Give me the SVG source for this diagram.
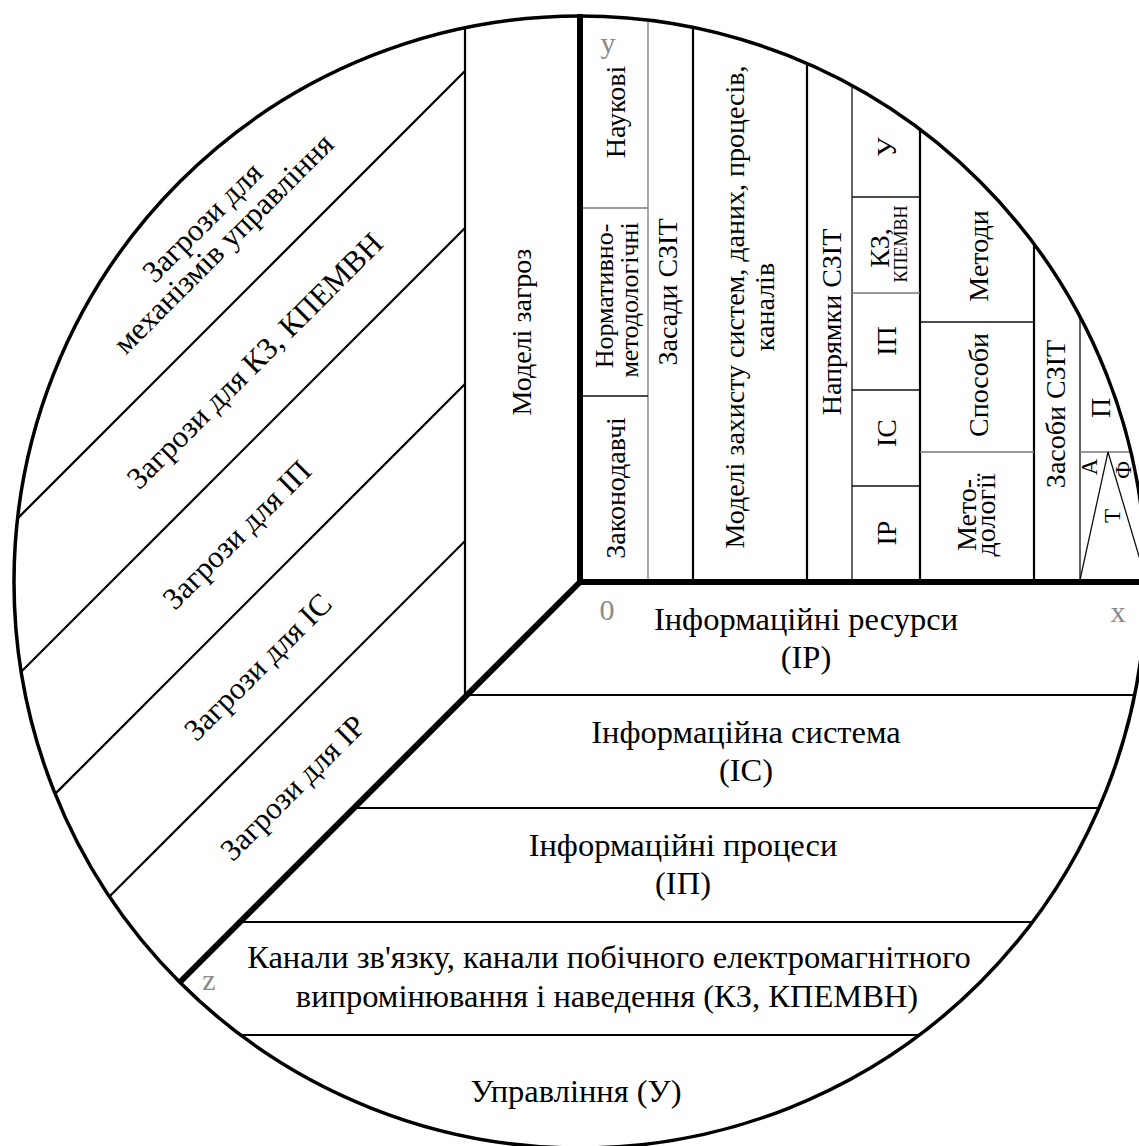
<svg xmlns="http://www.w3.org/2000/svg" width="1139" height="1146" viewBox="0 0 1139 1146" font-family="Liberation Serif, DejaVu Serif, serif">
<style>
text{font-family:"Liberation Serif","DejaVu Serif",serif;fill:#000}
.big{font-size:32.5px}
.thr{font-size:31px}
.col{font-size:28px}
.sm{font-size:26px}
.xs{font-size:18px}
.tiny{font-size:23px}
.ax{font-size:30px;fill:#8a8a8a}
.thick{stroke:#000;stroke-width:6;fill:none}
.med{stroke:#000;stroke-width:2.2;fill:none}
.thin{stroke:#111;stroke-width:1.3;fill:none}
.gray{stroke:#777;stroke-width:1.3;fill:none}
</style>
<rect width="1139" height="1146" fill="#fff"/>
<g id="connectors">
  <line class="med" x1="465" y1="28" x2="465" y2="697"/>
  <line class="med" x1="465" y1="71" x2="17.6" y2="518.4"/>
  <line class="med" x1="465" y1="228" x2="21.2" y2="671.8"/>
  <line class="med" x1="465" y1="384" x2="55.1" y2="793.9"/>
  <line class="med" x1="465" y1="541" x2="109.5" y2="896.5"/>
  <line class="med" x1="467" y1="695" x2="1135" y2="695"/>
  <line class="med" x1="354" y1="808" x2="1099" y2="808"/>
  <line class="med" x1="240" y1="922" x2="1033" y2="922"/>
  <line class="med" x1="241" y1="1035" x2="919" y2="1035"/>
  <line class="gray" x1="648" y1="20" x2="648" y2="582"/>
  <line class="med" x1="693" y1="27" x2="693" y2="582"/>
  <line class="med" x1="807" y1="63" x2="807" y2="582"/>
  <line class="thin" x1="852" y1="85" x2="852" y2="582"/>
  <line class="med" x1="920" y1="129" x2="920" y2="582"/>
  <line class="med" x1="1034" y1="244" x2="1034" y2="582"/>
  <line class="thin" x1="1080" y1="317" x2="1080" y2="582"/>
  <line class="gray" x1="580" y1="208" x2="648" y2="208"/>
  <line class="thin" x1="580" y1="396" x2="648" y2="396"/>
  <line class="thin" x1="852" y1="197" x2="920" y2="197"/>
  <line class="gray" x1="852" y1="293" x2="920" y2="293"/>
  <line class="thin" x1="852" y1="390" x2="920" y2="390"/>
  <line class="thin" x1="852" y1="486" x2="920" y2="486"/>
  <line class="thin" x1="920" y1="322" x2="1034" y2="322"/>
  <line class="gray" x1="920" y1="452" x2="1034" y2="452"/>
  <line class="gray" x1="1080" y1="452" x2="1131" y2="452"/>
  <polyline class="thin" points="1080,580 1108,452 1145.5,578"/>
  <line class="thick" x1="580" y1="14" x2="580" y2="585"/>
  <line class="thick" x1="577" y1="582" x2="1146" y2="582"/>
  <line class="thick" x1="582" y1="580" x2="180" y2="982"/>
  <circle cx="580" cy="582" r="566" fill="none" stroke="#000" stroke-width="3.5"/>
</g>
<g id="axis-labels">
  <text class="ax" x="608" y="53" text-anchor="middle">y</text>
  <text class="ax" x="607" y="620" text-anchor="middle">0</text>
  <text class="ax" x="1118" y="622" text-anchor="middle">x</text>
  <text class="ax" x="209" y="990" text-anchor="middle">z</text>
</g>
<g id="threats">
  <g id="t-mech" transform="translate(213 233) rotate(-45)">
    <text class="thr" x="0" y="-5" text-anchor="middle">Загрози для</text>
    <text class="thr" x="0" y="25" text-anchor="middle">механізмів управління</text>
  </g>
  <g id="t-kz" transform="translate(255 361) rotate(-45)"><text class="thr" x="0" y="10" text-anchor="middle">Загрози для КЗ, КПЕМВН</text></g>
  <g id="t-ip" transform="translate(237 535) rotate(-45)"><text class="thr" x="0" y="10" text-anchor="middle">Загрози для ІП</text></g>
  <g id="t-is" transform="translate(258 667) rotate(-45)"><text class="thr" x="0" y="10" text-anchor="middle">Загрози для ІС</text></g>
  <g id="t-ir" transform="translate(293 788) rotate(-45)"><text class="thr" x="0" y="10" text-anchor="middle">Загрози для ІР</text></g>
</g>
<g id="models-threats" transform="translate(522 332) rotate(-90)"><text class="col" x="0" y="9" text-anchor="middle">Моделі загроз</text></g>
<g id="principles">
  <g transform="translate(616 112) rotate(-90)"><text class="col" x="0" y="9" text-anchor="middle">Наукові</text></g>
  <g transform="translate(604 296) rotate(-90)"><text class="sm" x="0" y="9" text-anchor="middle">Нормативно-</text></g>
  <g transform="translate(632 300) rotate(-90)"><text class="sm" x="0" y="6" text-anchor="middle">методологічні</text></g>
  <g transform="translate(616 488) rotate(-90)"><text class="col" x="0" y="9" text-anchor="middle">Законодавчі</text></g>
</g>
<g id="zasady" transform="translate(668 292) rotate(-90)"><text class="col" x="0" y="9" text-anchor="middle">Засади СЗІТ</text></g>
<g id="models-protect">
  <g transform="translate(735 307) rotate(-90)"><text class="col" x="0" y="9" text-anchor="middle">Моделі захисту систем, даних, процесів,</text></g>
  <g transform="translate(768 307) rotate(-90)"><text class="col" x="0" y="6" text-anchor="middle">каналів</text></g>
</g>
<g id="napryamky" transform="translate(832 322) rotate(-90)"><text class="col" x="0" y="9" text-anchor="middle">Напрямки СЗІТ</text></g>
<g id="objects">
  <g transform="translate(887 533) rotate(-90)"><text class="col" x="0" y="9" text-anchor="middle">ІР</text></g>
  <g transform="translate(887 433) rotate(-90)"><text class="col" x="0" y="9" text-anchor="middle">ІС</text></g>
  <g transform="translate(887 341) rotate(-90)"><text class="col" x="0" y="9" text-anchor="middle">ІП</text></g>
  <g transform="translate(880 248) rotate(-90)"><text class="col" x="0" y="9" text-anchor="middle">КЗ,</text></g>
  <g transform="translate(901 244) rotate(-90)"><text class="xs" x="0" y="6" text-anchor="middle">КПЕМВН</text></g>
  <g transform="translate(887 147) rotate(-90)"><text class="col" x="0" y="9" text-anchor="middle">У</text></g>
</g>
<g id="methods">
  <g transform="translate(979 256) rotate(-90)"><text class="col" x="0" y="9" text-anchor="middle">Методи</text></g>
  <g transform="translate(979 385) rotate(-90)"><text class="col" x="0" y="9" text-anchor="middle">Способи</text></g>
  <g transform="translate(967 515) rotate(-90)"><text class="col" x="0" y="9" text-anchor="middle">Мето-</text></g>
  <g transform="translate(989 515) rotate(-90)"><text class="col" x="0" y="6" text-anchor="middle">дології</text></g>
</g>
<g id="means">
  <g transform="translate(1056 414) rotate(-90)"><text class="col" x="0" y="9" text-anchor="middle">Засоби СЗІТ</text></g>
  <g transform="translate(1101 408) rotate(-90)"><text class="col" x="0" y="9" text-anchor="middle">П</text></g>
  <g transform="translate(1089 467) rotate(-90)"><text class="tiny" x="0" y="8" text-anchor="middle">А</text></g>
  <g transform="translate(1112 516) rotate(-90)"><text class="tiny" x="0" y="8" text-anchor="middle">Т</text></g>
  <g transform="translate(1123 470) rotate(-90)"><text class="tiny" x="0" y="8" text-anchor="middle">Ф</text></g>
</g>
<g id="bands">
  <g id="b-ir"><text class="big" x="806" y="630" text-anchor="middle">Інформаційні ресурси</text><text class="big" x="806" y="668" text-anchor="middle">(ІР)</text></g>
  <g id="b-is"><text class="big" x="746" y="743" text-anchor="middle">Інформаційна система</text><text class="big" x="746" y="781" text-anchor="middle">(ІС)</text></g>
  <g id="b-ip"><text class="big" x="683" y="856" text-anchor="middle">Інформаційні процеси</text><text class="big" x="683" y="894" text-anchor="middle">(ІП)</text></g>
  <g id="b-kz"><text class="big" x="609" y="968" text-anchor="middle">Канали зв'язку, канали побічного електромагнітного</text><text class="big" x="607" y="1007" text-anchor="middle">випромінювання і наведення (КЗ, КПЕМВН)</text></g>
  <g id="b-u"><text class="big" x="576" y="1102" text-anchor="middle">Управління (У)</text></g>
</g>
</svg>
